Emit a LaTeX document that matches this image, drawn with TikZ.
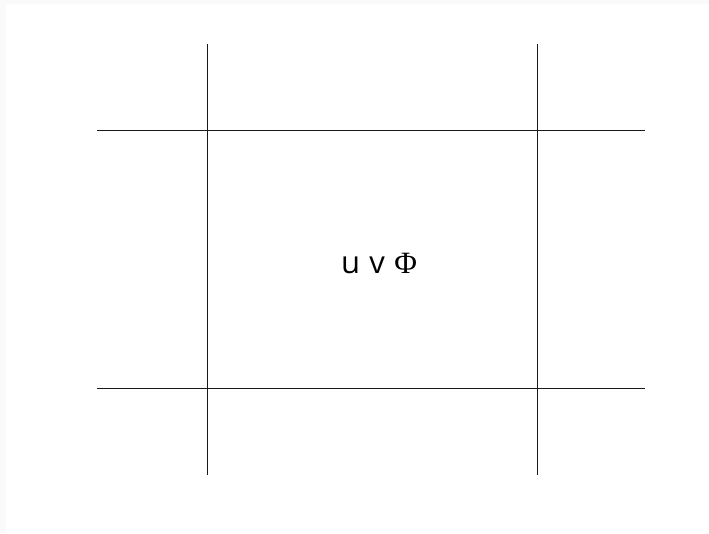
\documentclass[tikz,border=0pt]{standalone}
\usepackage{fontspec}
\setmainfont{Open Sans}
\newfontfamily\phifont{Liberation Serif}
\begin{document}
\begin{tikzpicture}[x=1pt,y=-1pt,
  gridline/.style={line width=0.9pt,draw=black!90}]
\fill[black!2] (0,0) rectangle (709,533);
\fill[white] (6,4) rectangle (709,533);
\useasboundingbox (0,0) rectangle (709,533);
\draw[gridline] (207,44) -- (207,475);
\draw[gridline] (537,44) -- (537,475);
\draw[gridline] (97,130) -- (645,130);
\draw[gridline] (97,388) -- (645,388);
\node[font=\fontsize{31}{36}\selectfont] (lbl) at (379,263) {u\hspace{0.3em}v\hspace{0.3em}{\phifont Φ}};
\end{tikzpicture}
\end{document}
